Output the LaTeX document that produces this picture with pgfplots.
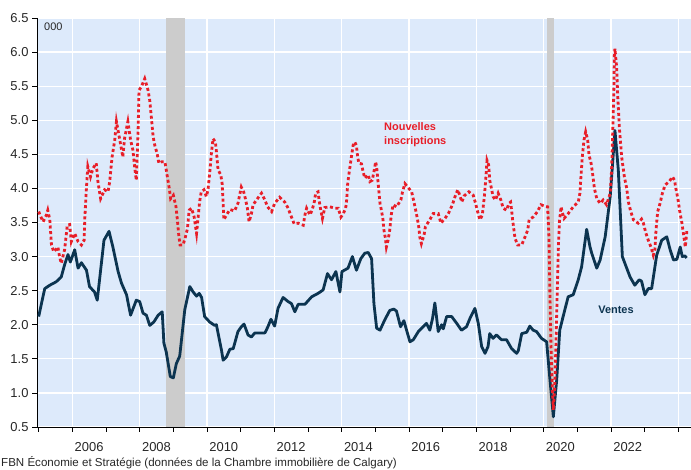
\documentclass[border=0pt]{standalone}
\usepackage{fontspec}
\setmainfont{Liberation Sans}
\usepackage{pgfplots}
\pgfplotsset{compat=1.18}
\definecolor{bgblue}{RGB}{221,234,251}
\definecolor{navy}{RGB}{12,52,80}
\definecolor{redl}{RGB}{232,30,40}
\definecolor{bandgray}{RGB}{204,204,204}
\begin{document}
\begin{tikzpicture}[x=1bp,y=1bp]
\path[use as bounding box] (0,0) rectangle (691,470);
\begin{axis}[
  at={(37bp,43bp)}, anchor=south west,
  scale only axis, width=654bp, height=409bp,
  xmin=2004.95, xmax=2024.38, ymin=0.5, ymax=6.5,
  axis background/.style={fill=bgblue},
  axis x line*=bottom, axis y line*=left,
  x axis line style={-, black, line width=0.8bp},
  y axis line style={-, black, line width=0.8bp},
  tick align=outside,
  major tick length=5bp, minor tick length=3bp,
  every tick/.style={black, line width=0.8bp},
  xtick={2005,2006,...,2024},
  xticklabels={,2006,,2008,,2010,,2012,,2014,,2016,,2018,,2020,,2022,,},
  minor x tick num=2,
  x tick label style={xshift=16.8bp, yshift=-7bp},
  ytick={0.5,1,...,6.5},
  yticklabel style={/pgf/number format/.cd, fixed, fixed zerofill, precision=1},
  ymajorgrids, grid style={white, line width=1.2bp},
  /pgf/number format/assume math mode=true,
  tick label style={font=\fontsize{13}{15}\selectfont, text=black!85},
]
\fill[bandgray] (axis cs:2008.77,0.5) rectangle (axis cs:2009.36,6.5);
\fill[bandgray] (axis cs:2020.09,0.5) rectangle (axis cs:2020.32,6.5);
\pgfplotsinvokeforeach{2006,2008,2010,2012,2014,2016,2018,2020,2022,2024}{
  \draw[white, line width=1.2bp] (axis cs:#1,0.5) -- (axis cs:#1,6.5);
}
\addplot[navy, line width=2.8bp, line join=round] coordinates {
(2005.00,2.12)(2005.10,2.35)(2005.18,2.53)(2005.33,2.58)(2005.52,2.63)(2005.67,2.70)
(2005.77,2.88)(2005.87,3.03)(2005.94,2.92)(2006.07,3.10)(2006.17,2.83)(2006.27,2.91)
(2006.42,2.80)(2006.51,2.56)(2006.66,2.48)(2006.74,2.36)(2006.94,3.24)(2007.09,3.37)
(2007.20,3.15)(2007.36,2.78)(2007.46,2.61)(2007.61,2.44)(2007.73,2.14)(2007.90,2.36)
(2008.00,2.34)(2008.10,2.17)(2008.20,2.14)(2008.30,1.99)(2008.42,2.04)(2008.55,2.14)
(2008.67,2.19)(2008.72,1.73)(2008.79,1.60)(2008.91,1.24)(2009.00,1.22)(2009.09,1.43)
(2009.19,1.54)(2009.34,2.22)(2009.49,2.56)(2009.59,2.48)(2009.69,2.42)(2009.77,2.46)
(2009.84,2.40)(2009.93,2.12)(2010.08,2.04)(2010.23,1.99)(2010.28,2.00)(2010.43,1.63)
(2010.48,1.48)(2010.58,1.53)(2010.68,1.64)(2010.78,1.65)(2010.92,1.90)(2011.02,1.97)
(2011.10,2.01)(2011.22,1.85)(2011.32,1.82)(2011.42,1.88)(2011.57,1.88)(2011.72,1.88)
(2011.81,1.97)(2011.90,2.08)(2012.01,1.98)(2012.11,2.24)(2012.26,2.40)(2012.41,2.34)
(2012.51,2.31)(2012.61,2.19)(2012.71,2.30)(2012.91,2.30)(2013.11,2.41)(2013.30,2.46)
(2013.45,2.51)(2013.58,2.75)(2013.70,2.66)(2013.83,2.78)(2013.95,2.48)(2014.01,2.78)
(2014.19,2.83)(2014.32,3.00)(2014.44,2.80)(2014.57,2.97)(2014.69,3.05)(2014.79,3.06)
(2014.89,2.97)(2014.96,2.31)(2015.04,1.95)(2015.14,1.92)(2015.28,2.07)(2015.43,2.21)
(2015.55,2.23)(2015.63,2.20)(2015.75,1.97)(2015.85,2.06)(2015.93,1.92)(2016.03,1.75)
(2016.13,1.78)(2016.28,1.90)(2016.42,1.97)(2016.52,2.02)(2016.62,1.92)(2016.70,2.09)
(2016.77,2.32)(2016.87,1.90)(2016.97,2.00)(2017.02,1.94)(2017.12,2.12)(2017.27,2.12)
(2017.42,2.02)(2017.56,1.92)(2017.71,1.97)(2017.81,2.09)(2017.96,2.24)(2018.06,2.02)
(2018.16,1.68)(2018.26,1.58)(2018.35,1.68)(2018.40,1.87)(2018.50,1.80)(2018.60,1.85)
(2018.75,1.78)(2018.90,1.78)(2019.05,1.65)(2019.20,1.58)(2019.25,1.62)(2019.35,1.87)
(2019.50,1.89)(2019.59,1.98)(2019.69,1.92)(2019.79,1.90)(2019.94,1.80)(2020.09,1.75)
(2020.19,1.19)(2020.29,0.65)(2020.39,1.19)(2020.48,1.92)(2020.58,2.12)(2020.73,2.41)
(2020.88,2.44)(2021.03,2.66)(2021.13,2.85)(2021.28,3.40)(2021.38,3.14)(2021.43,3.05)
(2021.58,2.83)(2021.68,2.95)(2021.83,3.29)(2021.98,3.88)(2022.12,4.85)(2022.22,4.27)
(2022.34,3.00)(2022.47,2.83)(2022.57,2.70)(2022.71,2.58)(2022.84,2.66)(2022.91,2.64)
(2023.01,2.44)(2023.11,2.53)(2023.21,2.53)(2023.36,3.02)(2023.51,3.24)(2023.66,3.29)
(2023.76,3.10)(2023.86,2.95)(2023.96,2.96)(2024.06,3.14)(2024.12,3.00)(2024.20,3.01)
(2024.25,2.98)
};
\addplot[redl, line width=2.8bp, dash pattern=on 3bp off 2.6bp] coordinates {
(2005.00,3.66)(2005.05,3.60)(2005.13,3.51)(2005.23,3.61)(2005.27,3.68)(2005.33,3.54)
(2005.38,3.17)(2005.45,3.07)(2005.57,3.14)(2005.62,3.00)(2005.67,2.90)(2005.77,3.10)
(2005.85,3.46)(2005.92,3.47)(2005.97,3.22)(2006.07,3.34)(2006.17,3.22)(2006.27,3.17)
(2006.35,3.24)(2006.37,3.56)(2006.42,4.02)(2006.46,4.32)(2006.54,4.17)(2006.61,4.29)
(2006.71,4.37)(2006.76,4.10)(2006.84,3.85)(2006.96,3.98)(2007.06,3.95)(2007.11,4.10)
(2007.18,4.46)(2007.26,4.71)(2007.31,4.98)(2007.41,4.71)(2007.50,4.46)(2007.55,4.73)
(2007.65,4.98)(2007.73,4.71)(2007.80,4.56)(2007.85,4.32)(2007.90,4.12)(2007.95,4.78)
(2007.98,5.44)(2008.05,5.49)(2008.15,5.61)(2008.25,5.44)(2008.30,5.29)(2008.35,5.03)
(2008.40,4.76)(2008.45,4.63)(2008.52,4.51)(2008.57,4.37)(2008.65,4.39)(2008.75,4.39)
(2008.80,4.24)(2008.88,4.00)(2008.92,3.85)(2009.00,3.90)(2009.08,3.73)(2009.12,3.54)
(2009.16,3.32)(2009.20,3.17)(2009.29,3.17)(2009.36,3.29)(2009.42,3.41)(2009.47,3.68)
(2009.54,3.71)(2009.62,3.58)(2009.66,3.44)(2009.69,3.34)(2009.73,3.54)(2009.78,3.80)
(2009.83,3.95)(2009.91,3.98)(2009.98,3.88)(2010.03,3.98)(2010.08,4.22)(2010.13,4.51)
(2010.18,4.73)(2010.25,4.68)(2010.28,4.54)(2010.33,4.27)(2010.41,4.20)(2010.45,4.07)
(2010.48,3.78)(2010.50,3.54)(2010.58,3.61)(2010.68,3.69)(2010.82,3.67)(2010.92,3.78)
(2011.02,4.02)(2011.09,3.95)(2011.14,3.85)(2011.20,3.71)(2011.25,3.51)(2011.32,3.63)
(2011.37,3.76)(2011.50,3.85)(2011.62,3.93)(2011.72,3.83)(2011.80,3.73)(2011.92,3.66)
(2012.01,3.78)(2012.16,3.87)(2012.31,3.80)(2012.41,3.71)(2012.51,3.58)(2012.59,3.48)
(2012.71,3.49)(2012.86,3.46)(2012.91,3.61)(2012.96,3.71)(2013.06,3.61)(2013.12,3.68)
(2013.18,3.78)(2013.23,3.93)(2013.30,3.95)(2013.33,3.83)(2013.38,3.68)(2013.43,3.56)
(2013.50,3.72)(2013.65,3.73)(2013.80,3.71)(2013.90,3.71)(2013.98,3.58)(2014.05,3.63)
(2014.12,3.71)(2014.15,3.83)(2014.18,4.07)(2014.22,4.22)(2014.29,4.46)(2014.34,4.63)
(2014.39,4.68)(2014.44,4.63)(2014.47,4.49)(2014.51,4.37)(2014.59,4.36)(2014.64,4.24)
(2014.69,4.15)(2014.79,4.20)(2014.84,4.10)(2014.91,4.12)(2014.97,4.27)(2015.01,4.39)
(2015.04,4.32)(2015.09,4.05)(2015.14,3.78)(2015.19,3.66)(2015.23,3.54)(2015.25,3.41)
(2015.30,3.27)(2015.33,3.14)(2015.38,3.24)(2015.43,3.39)(2015.46,3.54)(2015.48,3.63)
(2015.53,3.76)(2015.63,3.73)(2015.76,3.83)(2015.81,3.95)(2015.88,4.07)(2015.98,4.01)
(2016.08,3.95)(2016.15,3.80)(2016.20,3.68)(2016.25,3.56)(2016.30,3.41)(2016.32,3.29)
(2016.37,3.19)(2016.45,3.32)(2016.49,3.44)(2016.62,3.54)(2016.72,3.63)(2016.87,3.63)
(2016.95,3.49)(2017.07,3.56)(2017.17,3.63)(2017.29,3.76)(2017.37,3.88)(2017.45,3.98)
(2017.51,3.90)(2017.57,3.80)(2017.64,3.89)(2017.78,3.95)(2017.91,3.90)(2017.98,3.78)
(2018.04,3.66)(2018.11,3.54)(2018.18,3.61)(2018.24,3.88)(2018.28,4.12)(2018.32,4.41)
(2018.37,4.34)(2018.40,4.12)(2018.45,4.00)(2018.50,3.88)(2018.57,3.83)(2018.65,3.93)
(2018.73,3.83)(2018.80,3.71)(2018.90,3.68)(2018.97,3.78)(2019.02,3.80)(2019.05,3.68)
(2019.08,3.54)(2019.12,3.39)(2019.15,3.27)(2019.23,3.17)(2019.35,3.17)(2019.45,3.29)
(2019.53,3.39)(2019.57,3.54)(2019.69,3.58)(2019.82,3.66)(2019.92,3.76)(2020.04,3.74)
(2020.12,3.73)(2020.16,3.29)(2020.19,2.41)(2020.22,1.68)(2020.26,1.04)(2020.29,0.75)
(2020.34,1.19)(2020.39,2.17)(2020.44,3.14)(2020.47,3.51)(2020.52,3.73)(2020.55,3.66)
(2020.61,3.56)(2020.73,3.63)(2020.88,3.73)(2021.03,3.80)(2021.08,3.93)(2021.11,4.17)
(2021.15,4.46)(2021.20,4.71)(2021.25,4.83)(2021.31,4.71)(2021.35,4.49)(2021.41,4.37)
(2021.45,4.24)(2021.51,4.00)(2021.58,3.85)(2021.68,3.78)(2021.77,3.83)(2021.87,3.76)
(2021.98,3.93)(2022.02,4.27)(2022.05,4.76)(2022.07,5.10)(2022.09,5.49)(2022.10,5.93)
(2022.12,6.05)(2022.17,5.78)(2022.20,5.39)(2022.25,4.90)(2022.32,4.46)(2022.40,4.17)
(2022.47,4.00)(2022.52,3.80)(2022.59,3.66)(2022.67,3.54)(2022.81,3.49)(2022.91,3.55)
(2022.96,3.50)(2023.03,3.36)(2023.11,3.24)(2023.19,3.14)(2023.26,3.02)(2023.31,3.11)
(2023.34,3.39)(2023.39,3.66)(2023.46,3.78)(2023.53,3.93)(2023.61,4.05)(2023.73,4.10)
(2023.83,4.17)(2023.89,4.12)(2023.93,4.00)(2023.99,3.85)(2024.04,3.68)(2024.11,3.49)
(2024.16,3.32)(2024.21,3.14)(2024.24,3.29)(2024.26,3.39)
};
\end{axis}
\node[anchor=west, inner sep=0, font=\fontsize{11}{13}\selectfont, text=black!85] at (44,443) {000};
\node[anchor=west, inner sep=0, align=left, text=redl, font=\fontsize{11}{14}\selectfont\bfseries] at (384,335) {Nouvelles\\inscriptions};
\node[anchor=center, inner sep=0, text=navy, font=\fontsize{11}{13}\selectfont\bfseries] at (616,160) {Ventes};
\node[anchor=west, inner sep=0, font=\fontsize{11.6}{13}\selectfont, text=black!85] at (1,7) {FBN Économie et Stratégie (données de la Chambre immobilière de Calgary)};
\end{tikzpicture}
\end{document}
